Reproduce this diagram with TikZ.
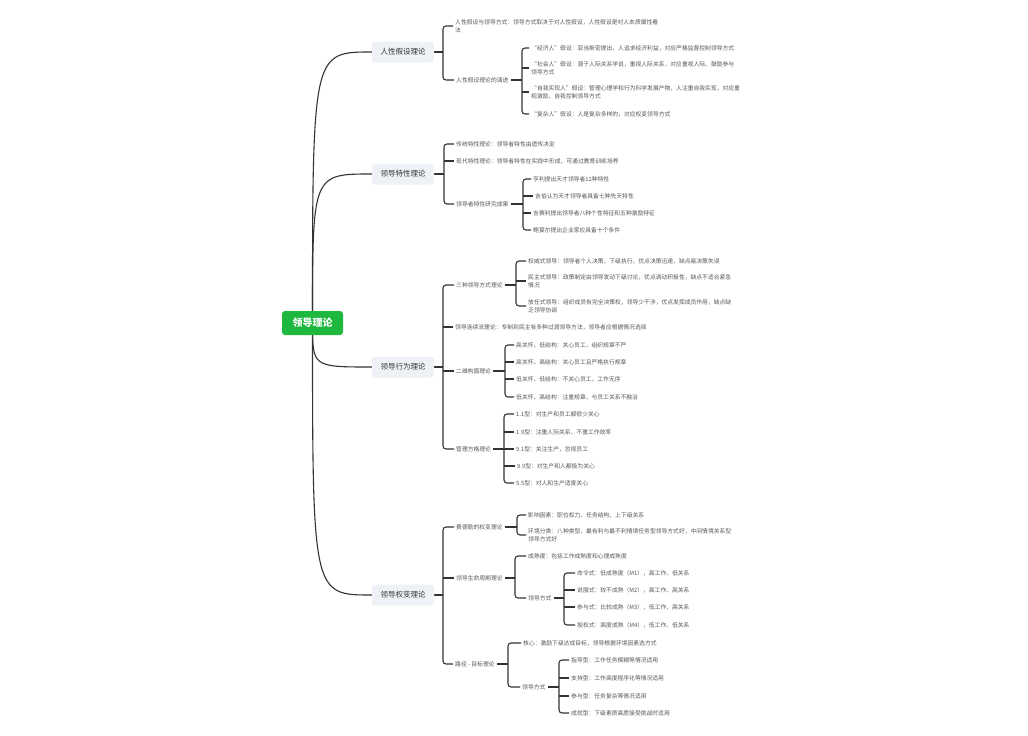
\documentclass[tikz,border=0pt]{standalone}
\usepackage{fontspec}
\setmainfont{Noto Sans CJK SC}
\definecolor{rootgreen}{HTML}{1FB83F}
\definecolor{topicgray}{HTML}{EEF1F5}
\definecolor{linegray}{HTML}{333333}
\definecolor{textgray}{HTML}{555555}
\usetikzlibrary{backgrounds}
\tikzstyle{root} = [rectangle, rounded corners=3pt, fill=rootgreen, text=white, font=\fontsize{10}{12}\selectfont\bfseries, minimum width=61pt, minimum height=24pt]
\tikzstyle{topic} = [rectangle, rounded corners=3pt, fill=topicgray, text=linegray, font=\fontsize{7.5}{9}\selectfont, minimum width=62pt, minimum height=21pt]
\tikzstyle{leaf} = [anchor=west, inner sep=2pt, align=left, text=textgray, font=\fontsize{5.8}{8}\selectfont]
\tikzstyle{link} = [draw=linegray, line width=1.1pt]

\begin{document}
\begin{tikzpicture}[x=1pt, y=-1pt]
\useasboundingbox (0,0) rectangle (1028,736);

\node[root] (lt) at (312.5,323) {领导理论};

% 人性假设理论
\node[topic] (h1) at (403,52) {人性假设理论};
\node[leaf] (h1a) at (453,26) {人性假设与领导方式：领导方式取决于对人性假设，人性假设是对人本质属性看\\法};
\node[leaf] (h1b) at (454,80) {人性假设理论的演进};
\node[leaf] (h1b1) at (529,48) {“经济人”假设：亚当斯密提出，人追求经济利益，对应严格监督控制领导方式};
\node[leaf] (h1b2) at (529,68) {“社会人”假设：源于人际关系学说，重视人际关系，对应重视人际、鼓励参与\\领导方式};
\node[leaf] (h1b3) at (529,92) {“自我实现人”假设：管理心理学和行为科学发展产物，人注重自我实现，对应重\\视激励、自我控制领导方式};
\node[leaf] (h1b4) at (529,114) {“复杂人”假设：人是复杂多样的，对应权变领导方式};

% 领导特性理论
\node[topic] (h2) at (403,174) {领导特性理论};
\node[leaf] (h2a) at (454,144) {传统特性理论：领导者特性由遗传决定};
\node[leaf] (h2b) at (454,161) {现代特性理论：领导者特性在实践中形成，可通过教育训练培养};
\node[leaf] (h2c) at (454,204) {领导者特性研究成果};
\node[leaf] (h2c1) at (531,179) {亨利提出天才领导者12种特性};
\node[leaf] (h2c2) at (533,196) {吉伯认为天才领导者具备七种先天特性};
\node[leaf] (h2c3) at (531,213) {吉赛利提出领导者八种个性特征和五种激励特征};
\node[leaf] (h2c4) at (531,230) {鲍莫尔提出企业家应具备十个条件};

% 领导行为理论
\node[topic] (h3) at (403,367) {领导行为理论};
\node[leaf] (h3a) at (454,285) {三种领导方式理论};
\node[leaf] (h3a1) at (526,261) {权威式领导：领导者个人决策，下级执行，优点决策迅速，缺点易决策失误};
\node[leaf] (h3a2) at (526,281) {民主式领导：政策制定由领导发动下级讨论，优点调动积极性，缺点不适合紧急\\情况};
\node[leaf] (h3a3) at (526,306) {放任式领导：组织成员有完全决策权，领导少干涉，优点发挥成员作用，缺点缺\\乏领导协调};
\node[leaf] (h3b) at (453,327) {领导连续流理论：专制到民主有多种过渡领导方法，领导者应根据情况选择};
\node[leaf] (h3c) at (454,371) {二维构面理论};
\node[leaf] (h3c1) at (514,345) {高关怀、低结构：关心员工，组织规章不严};
\node[leaf] (h3c2) at (514,362) {高关怀、高结构：关心员工且严格执行规章};
\node[leaf] (h3c3) at (514,379) {低关怀、低结构：不关心员工，工作无序};
\node[leaf] (h3c4) at (514,397) {低关怀、高结构：注重规章，与员工关系不融洽};
\node[leaf] (h3d) at (454,449) {管理方格理论};
\node[leaf] (h3d1) at (514,414) {1.1型：对生产和员工都很少关心};
\node[leaf] (h3d2) at (514,432) {1.9型：注重人际关系，不重工作效率};
\node[leaf] (h3d3) at (514,449) {9.1型：关注生产，忽视员工};
\node[leaf] (h3d4) at (515,466) {9.9型：对生产和人都极为关心};
\node[leaf] (h3d5) at (514,483) {5.5型：对人和生产适度关心};

% 领导权变理论
\node[topic] (h4) at (403,595) {领导权变理论};
\node[leaf] (h4a) at (454,527) {费德勒的权变理论};
\node[leaf] (h4a1) at (526,515) {影响因素：职位权力、任务结构、上下级关系};
\node[leaf] (h4a2) at (526,535) {环境分类：八种类型，最有利与最不利情境任务型领导方式好，中间情境关系型\\领导方式好};
\node[leaf] (h4b) at (454,578) {领导生命周期理论};
\node[leaf] (h4b1) at (526,556) {成熟度：包括工作成熟度和心理成熟度};
\node[leaf] (h4b2) at (526,598) {领导方式};
\node[leaf] (h4b21) at (575,573) {命令式：低成熟度（M1），高工作、低关系};
\node[leaf] (h4b22) at (575,590) {说服式：较不成熟（M2），高工作、高关系};
\node[leaf] (h4b23) at (575,607) {参与式：比较成熟（M3），低工作、高关系};
\node[leaf] (h4b24) at (575,625) {授权式：高度成熟（M4），低工作、低关系};
\node[leaf] (h4c) at (453,664) {路径 - 目标理论};
\node[leaf] (h4c1) at (521,643) {核心：激励下级达成目标，领导根据环境因素选方式};
\node[leaf] (h4c2) at (520,687) {领导方式};
\node[leaf] (h4c21) at (569,660) {指导型：工作任务模糊等情况适用};
\node[leaf] (h4c22) at (569,678) {支持型：工作高度程序化等情况适用};
\node[leaf] (h4c23) at (569,696) {参与型：任务复杂等情况适用};
\node[leaf] (h4c24) at (569,713) {成就型：下级素质高愿接受挑战时适用};

% junctions of the brackets
\coordinate (h1j) at (443,52);
\coordinate (h1bj) at (522,80);
\coordinate (h2j) at (444,174);
\coordinate (h2cj) at (523,204);
\coordinate (h3j) at (443,367);
\coordinate (h3aj) at (516,285);
\coordinate (h3cj) at (505,371);
\coordinate (h3dj) at (504,449);
\coordinate (h4j) at (443,595);
\coordinate (h4aj) at (517,527);
\coordinate (h4bj) at (515,578);
\coordinate (h4b2j) at (564,598);
\coordinate (h4cj) at (508,664);
\coordinate (h4c2j) at (559,687);

\begin{scope}[on background layer]
  % curves from the root
  \draw[link] (lt.center) .. controls (lt.center |- h1.west) .. (h1.west);
  \draw[link] (lt.center) .. controls (lt.center |- h2.west) .. (h2.west);
  \draw[link] (lt.center) .. controls (lt.center |- h3.west) .. (h3.west);
  \draw[link] (lt.center) .. controls (lt.center |- h4.west) .. (h4.west);

  % 人性假设理论
  \draw[link] (h1.east) -- (h1j);
  \draw[link, rounded corners=3pt] (h1a.west) -| (h1j) |- (h1b.west);
  \draw[link] (h1b.east) -- (h1bj);
  \draw[link, rounded corners=3pt] (h1b1.west) -| (h1bj) |- (h1b4.west);
  \draw[link] (h1bj |- h1b2.west) -- (h1b2.west) (h1bj |- h1b3.west) -- (h1b3.west);

  % 领导特性理论
  \draw[link] (h2.east) -- (h2j);
  \draw[link, rounded corners=3pt] (h2a.west) -| (h2j) |- (h2c.west);
  \draw[link] (h2j |- h2b.west) -- (h2b.west);
  \draw[link] (h2c.east) -- (h2cj);
  \draw[link, rounded corners=3pt] (h2c1.west) -| (h2cj) |- (h2c4.west);
  \draw[link] (h2cj |- h2c2.west) -- (h2c2.west) (h2cj |- h2c3.west) -- (h2c3.west);

  % 领导行为理论
  \draw[link] (h3.east) -- (h3j);
  \draw[link, rounded corners=3pt] (h3a.west) -| (h3j) |- (h3d.west);
  \draw[link] (h3j |- h3b.west) -- (h3b.west) (h3j |- h3c.west) -- (h3c.west);
  \draw[link] (h3a.east) -- (h3aj);
  \draw[link, rounded corners=3pt] (h3a1.west) -| (h3aj) |- (h3a3.west);
  \draw[link] (h3aj |- h3a2.west) -- (h3a2.west);
  \draw[link] (h3c.east) -- (h3cj);
  \draw[link, rounded corners=3pt] (h3c1.west) -| (h3cj) |- (h3c4.west);
  \draw[link] (h3cj |- h3c2.west) -- (h3c2.west) (h3cj |- h3c3.west) -- (h3c3.west);
  \draw[link] (h3d.east) -- (h3dj);
  \draw[link, rounded corners=3pt] (h3d1.west) -| (h3dj) |- (h3d5.west);
  \draw[link] (h3dj |- h3d2.west) -- (h3d2.west) (h3dj |- h3d3.west) -- (h3d3.west)
    (h3dj |- h3d4.west) -- (h3d4.west);

  % 领导权变理论
  \draw[link] (h4.east) -- (h4j);
  \draw[link, rounded corners=3pt] (h4a.west) -| (h4j) |- (h4c.west);
  \draw[link] (h4j |- h4b.west) -- (h4b.west);
  \draw[link] (h4a.east) -- (h4aj);
  \draw[link, rounded corners=3pt] (h4a1.west) -| (h4aj) |- (h4a2.west);
  \draw[link] (h4b.east) -- (h4bj);
  \draw[link, rounded corners=3pt] (h4b1.west) -| (h4bj) |- (h4b2.west);
  \draw[link] (h4b2.east) -- (h4b2j);
  \draw[link, rounded corners=3pt] (h4b21.west) -| (h4b2j) |- (h4b24.west);
  \draw[link] (h4b2j |- h4b22.west) -- (h4b22.west) (h4b2j |- h4b23.west) -- (h4b23.west);
  \draw[link] (h4c.east) -- (h4cj);
  \draw[link, rounded corners=3pt] (h4c1.west) -| (h4cj) |- (h4c2.west);
  \draw[link] (h4c2.east) -- (h4c2j);
  \draw[link, rounded corners=3pt] (h4c21.west) -| (h4c2j) |- (h4c24.west);
  \draw[link] (h4c2j |- h4c22.west) -- (h4c22.west) (h4c2j |- h4c23.west) -- (h4c23.west);
\end{scope}
\end{tikzpicture}
\end{document}
